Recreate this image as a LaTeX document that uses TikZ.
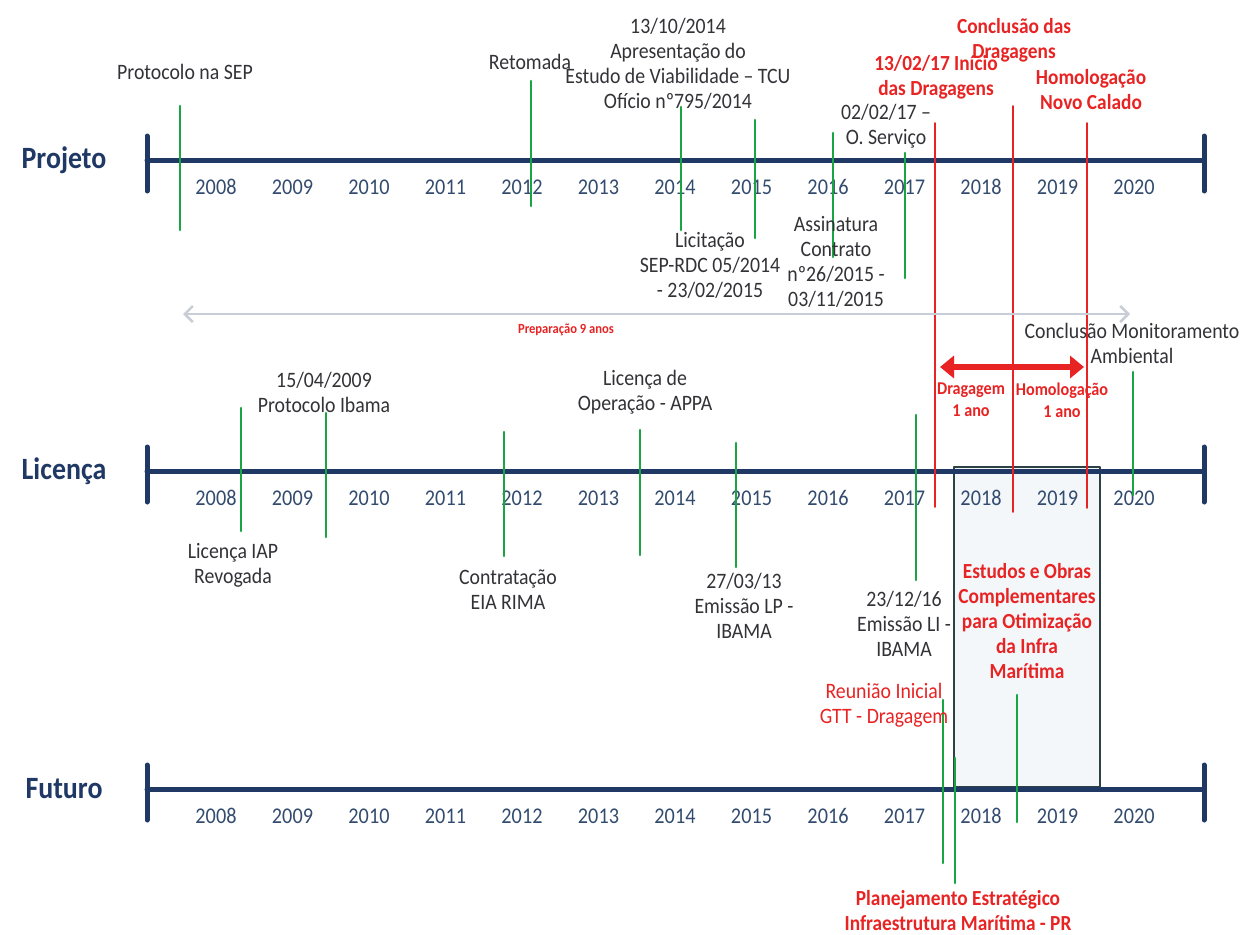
\documentclass[tikz,border=0pt]{standalone}
\usepackage{fontspec}
\setmainfont{Carlito}[FakeStretch=0.9]
\usetikzlibrary{arrows.meta}
\definecolor{navy}{RGB}{31,56,100}
\definecolor{yeargray}{RGB}{50,75,110}
\definecolor{evgreen}{RGB}{25,165,65}
\definecolor{evred}{RGB}{232,35,35}
\definecolor{txtgray}{RGB}{50,50,55}
\definecolor{boxedge}{RGB}{45,65,70}
\definecolor{boxfill}{RGB}{244,247,250}
\definecolor{prepgray}{RGB}{200,206,214}
\begin{document}
\begin{tikzpicture}[x=1pt, y=-1pt, line join=round, line cap=round,
  axis/.style={draw=navy, line width=5pt},
  gmark/.style={draw=evgreen, line width=2.6pt},
  rmark/.style={draw=evred, line width=1.6pt},
  lbl/.style={font=\fontsize{22}{25}\selectfont, text=txtgray, align=center, inner sep=0pt},
  rlbl/.style={lbl, text=evred, font=\fontsize{21.5}{25}\selectfont\bfseries},
  rsmall/.style={lbl, text=evred, font=\fontsize{18}{22}\selectfont\bfseries},
  yr/.style={font=\fontsize{22.5}{25}\selectfont, text=yeargray, inner sep=0pt},
  sect/.style={font=\fontsize{31}{34}\selectfont\bfseries, text=navy, inner sep=0pt}]
\useasboundingbox (0,0) rectangle (1244,934);
\def\yP{160}\def\yL{471}\def\yF{789}
% text that the box covers
\node[lbl] (li) at (904,624) {23/12/16\\Emissão LI -\\IBAMA};
% box Estudos e Obras
\draw[draw=boxedge, fill=boxfill, line width=1.6pt] (954,467) rectangle (1100,787);
% the three timelines
\foreach \ax/\y/\nm in {P/\yP/Projeto, L/\yL/Licença, F/\yF/Futuro}{
  \node[sect] (\ax) at (64,\y) {\nm};
  \draw[axis] (147,\y) -- (1204,\y);
  \draw[axis] (147,\y-24) -- (147,\y+31);
  \draw[axis] (1204,\y-24) -- (1204,\y+31);
  \foreach \yr [count=\i from 0] in {2008,...,2020}
    \node[yr] (\ax\yr) at ({216+76.5*\i},\y+27) {\yr};
}
% Projeto
\foreach \x/\a/\b in {180/106/230, 531/81/206, 681/107/230, 755/120/238, 833/133/257, 905/153/278}
  \draw[gmark] (\x,\a) -- (\x,\b);
\foreach \x/\a/\b in {935/123/507, 1013/106/512, 1087/123/508}
  \draw[rmark] (\x,\a) -- (\x,\b);
\node[lbl] (sep) at (185,72) {Protocolo na SEP};
\node[lbl] (retomada) at (530,62) {Retomada};
\node[lbl] (tcu) at (678,64) {13/10/2014\\Apresentação do\\Estudo de Viabilidade – TCU\\Ofício nº795/2014};
\node[lbl] (licit) at (710,265) {Licitação\\SEP-RDC 05/2014\\- 23/02/2015};
\node[lbl] (assin) at (836,262) {Assinatura\\Contrato\\nº26/2015 -\\03/11/2015};
\node[lbl] (oserv) at (886,126) {02/02/17 –\\O. Serviço};
\node[rlbl] (inicio) at (936,77) {13/02/17 Início\\das Dragagens};
\node[rlbl] (conclu) at (1014,40) {Conclusão das\\Dragagens};
\node[rlbl] (homol) at (1091,90) {Homologação\\Novo Calado};
% preparacao
\coordinate (prepL) at (183,314);
\coordinate (prepR) at (1130,314);
\draw[draw=prepgray, line width=2.6pt, {Straight Barb[length=8pt]}-{Straight Barb[length=8pt]}] (prepL) -- (prepR);
\node[rsmall, font=\fontsize{14}{16}\selectfont\bfseries] (prep) at (566,330) {Preparação 9 anos};
% Licenca
\foreach \x/\a/\b in {241/408/531, 326/413/537, 504/432/556, 640/430/555, 736/443/567, 916/415/580, 1133/372/495}
  \draw[gmark] (\x,\a) -- (\x,\b);
\node[lbl] (ibama) at (324,392) {15/04/2009\\Protocolo Ibama};
\node[lbl] (iap) at (233,565) {Licença IAP\\Revogada};
\node[lbl] (eia) at (508,590) {Contratação\\EIA RIMA};
\node[lbl] (appa) at (645,392) {Licença de\\Operação - APPA};
\node[lbl] (lp) at (744,606) {27/03/13\\Emissão LP -\\IBAMA};
\node[lbl] (monit) at (1132,343) {Conclusão Monitoramento\\Ambiental};
\coordinate (dragL) at (940,367);
\coordinate (dragR) at (1084,367);
\draw[draw=evred, line width=6pt, {Triangle[length=14pt,width=22pt]}-{Triangle[length=14pt,width=22pt]}] (dragL) -- (dragR);
\node[rsmall] (drag1) at (971,400) {Dragagem\\1 ano};
\node[rsmall] (homol1) at (1062,400) {Homologação\\1 ano};
\node[rlbl] (estudos) at (1027,621) {Estudos e Obras\\Complementares\\para Otimização\\da Infra\\Marítima};
% Futuro
\foreach \x/\a/\b in {943/700/863, 955/758/883, 1017/695/822}
  \draw[gmark] (\x,\a) -- (\x,\b);
\node[lbl, text=evred] (gtt) at (884,705) {Reunião Inicial\\GTT - Dragagem};
\node[rlbl] (plan) at (958,911) {Planejamento Estratégico\\Infraestrutura Marítima - PR};
\end{tikzpicture}
\end{document}
